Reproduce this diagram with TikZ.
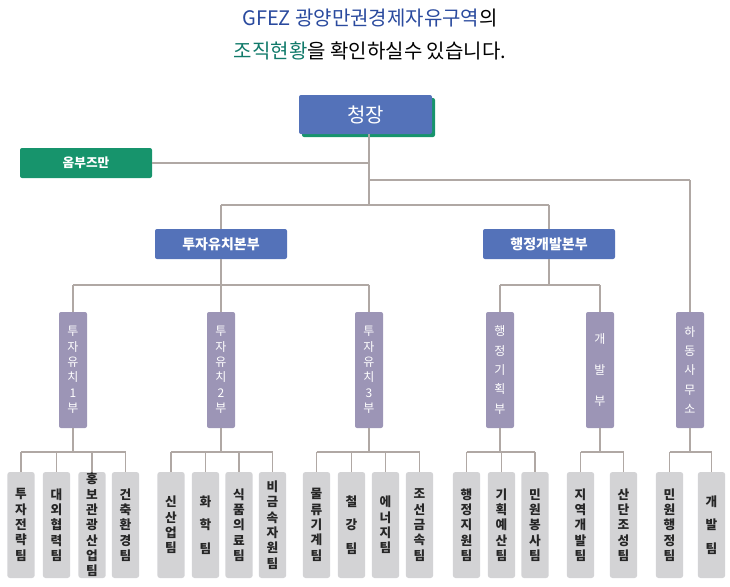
\documentclass[tikz,border=0pt]{standalone}
\usepackage{fontspec}
\setmainfont{Noto Sans CJK KR}
\definecolor{cblue}{HTML}{5472B9}
\definecolor{cgreen}{HTML}{17946C}
\definecolor{cpurp}{HTML}{9C95B6}
\definecolor{cteam}{HTML}{D3D3D5}
\definecolor{cline}{HTML}{B0A8A4}
\definecolor{ttblue}{HTML}{2A4A9E}
\definecolor{ttgreen}{HTML}{117A6A}
\begin{document}
\begin{tikzpicture}[x=0.75pt,y=-0.75pt,
  ln/.style={draw=cline,line width=0.9pt},
  hq/.style={fill=cblue,rounded corners=1.5pt,text=white,font=\fontsize{10.5}{12}\selectfont\bfseries,minimum width=99pt,minimum height=22.5pt,inner sep=0pt},
  mid/.style={fill=cpurp,rounded corners=1.5pt,text=white,font=\fontsize{9}{11.5}\selectfont,minimum width=21pt,minimum height=87pt,inner sep=0pt,align=center},
  team/.style={fill=cteam,rounded corners=2pt,text=black!85,font=\fontsize{9.5}{11.5}\selectfont\bfseries,minimum width=20.5pt,minimum height=79.5pt,inner sep=0pt,align=center}]
\useasboundingbox (0,0) rectangle (730,586);
\node[font=\fontsize{15}{18}\selectfont] (t1) at (370,18) {\textcolor{ttblue}{GFEZ 광양만권경제자유구역}의};
\node[font=\fontsize{15}{18}\selectfont] (t2) at (370,51) {\textcolor{ttgreen}{조직현황}을 확인하실수 있습니다.};
% chief
\fill[cgreen,rounded corners=1.5pt] (302,98) rectangle (435,137);
\node[fill=cblue,rounded corners=1.5pt,text=white,font=\fontsize{15}{18}\selectfont,minimum width=99.75pt,minimum height=29.25pt,inner sep=0pt] (chief) at (365.5,114.5) {청장};
\node[hq,fill=cgreen,font=\fontsize{9.5}{11}\selectfont\bfseries] (omb) at (86,163) {옴부즈만};
\node[hq] (hq1) at (221,244) {투자유치본부};
\node[hq] (hq2) at (549,244) {행정개발본부};
\coordinate (j1) at (369,163);
\coordinate (j2) at (369,180);
\coordinate (j3) at (690,180);
\coordinate (j4) at (369,205);
\coordinate (j5) at (221,205);
\coordinate (j6) at (549,205);
\draw[ln] (chief.south -| j1) -- (j4);
\draw[ln] (omb) -- (j1);
\draw[ln] (j2) -- (j3);
\draw[ln] (j5) -- (j6);
\draw[ln] (j5) -- (hq1);
\draw[ln] (j6) -- (hq2);
% mid level
\node[mid] (m1) at (73,370) {투\\자\\유\\치\\1\\부};
\node[mid] (m2) at (221,370) {투\\자\\유\\치\\2\\부};
\node[mid] (m3) at (369,370) {투\\자\\유\\치\\3\\부};
\node[mid] (m4) at (500,370) {행\\[3pt]정\\[3pt]기\\[3pt]획\\[3pt]부};
\node[mid] (m5) at (600,370) {개\\[12pt]발\\[12pt]부};
\node[mid] (m6) at (690,370) {하\\[3pt]동\\[3pt]사\\[3pt]무\\[3pt]소};
\coordinate (k1) at (73,285);
\coordinate (k3) at (369,285);
\coordinate (k4) at (500,285);
\coordinate (k5) at (600,285);
\draw[ln] (hq1) -- (m2);
\draw[ln] (k1) -- (k3);
\draw[ln] (k1) -- (m1);
\draw[ln] (k3) -- (m3);
\draw[ln] (hq2) -- (549,285);
\draw[ln] (k4) -- (k5);
\draw[ln] (k4) -- (m4);
\draw[ln] (k5) -- (m5);
\draw[ln] (j3) -- (m6);
% teams
\foreach \n/\x/\t in {
 a1/21/{투\\자\\전\\략\\팀}, a2/56.5/{대\\외\\협\\력\\팀}, a3/92/{홍\\보\\관\\광\\산\\업\\팀}, a4/125.5/{건\\축\\환\\경\\팀},
 b1/171/{신\\산\\업\\팀}, b2/205.5/{화\\[6pt]학\\[6pt]팀}, b3/239/{식\\품\\의\\료\\팀}, b4/272.5/{비\\금\\속\\자\\원\\팀},
 c1/316.5/{물\\류\\기\\계\\팀}, c2/351.5/{철\\[6pt]강\\[6pt]팀}, c3/385.5/{에\\너\\지\\팀}, c4/419.5/{조\\선\\금\\속\\팀},
 d1/466.5/{행\\정\\지\\원\\팀}, d2/501.5/{기\\획\\예\\산\\팀}, d3/535/{민\\원\\봉\\사\\팀},
 e1/580.5/{지\\역\\개\\발\\팀}, e2/623.5/{산\\단\\조\\성\\팀},
 f1/669.5/{민\\원\\행\\정\\팀}, f2/711.5/{개\\[6pt]발\\[6pt]팀}}
 {\node[team] (\n) at (\x,525) {\t};}
\foreach \m/\a/\b/\l in {m1/a1/a4/{a1,a2,a3,a4}, m2/b1/b4/{b1,b2,b3,b4}, m3/c1/c4/{c1,c2,c3,c4}, m4/d1/d3/{d1,d2,d3}, m5/e1/e2/{e1,e2}, m6/f1/f2/{f1,f2}}{
  \draw[ln] (\m.south) -- (\m.south |- 0,452);
  \draw[ln] (\a.north |- 0,452) -- (\b.north |- 0,452);
  \foreach \q in \l {\draw[ln] (\q.north |- 0,452) -- (\q.north);}
}
\end{tikzpicture}
\end{document}
